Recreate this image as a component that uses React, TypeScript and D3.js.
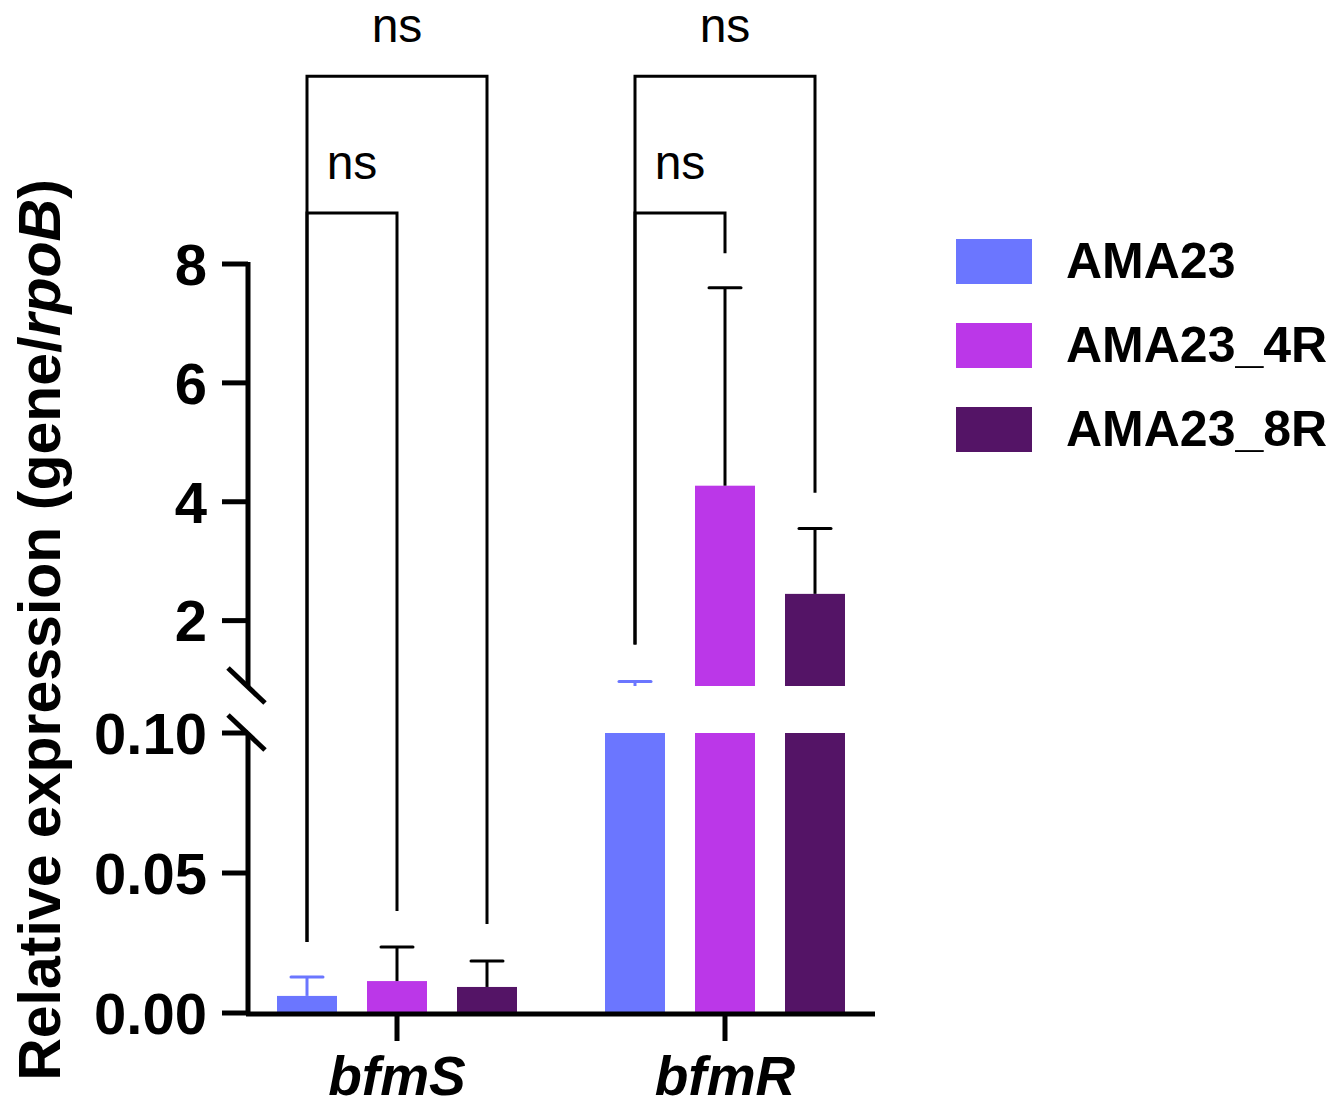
import * as d3 from "d3";

const categories = ["bfmS", "bfmR"];
const series = ["AMA23", "AMA23_4R", "AMA23_8R"];
const colors = ["#6b76ff", "#bb37e8", "#541466"];
// mean and error (SD) per series, per category
const means = [
  [0.0061, 0.75],
  [0.0114, 4.27],
  [0.0093, 2.45],
];
const errors = [
  [0.0068, 0.225],
  [0.0122, 3.33],
  [0.0093, 1.1],
];
const lowerTicks = [0, 0.05, 0.1];
const upperTicks = [2, 4, 6, 8];
// significance brackets: group, from/to series index, top value, leg ends
const brackets = [
  { cat: "bfmS", from: 0, to: 1, top: 8.86, left: 0.0254, right: 0.0364, label: "ns" },
  { cat: "bfmS", from: 0, to: 2, top: 11.16, left: 0.0254, right: 0.0318, label: "ns" },
  { cat: "bfmR", from: 0, to: 1, top: 8.86, left: 1.6, right: 8.18, label: "ns" },
  { cat: "bfmR", from: 0, to: 2, top: 11.16, left: 1.6, right: 4.15, label: "ns" },
];

const FONT = "'Liberation Sans', Arial, sans-serif";
const BREAK_LO = 0.1;
const BREAK_HI = 0.9;

export default function App() {
  const width = 1336;
  const height = 1108;
  const axisX = 248;

  const yLow = d3.scaleLinear().domain([0, BREAK_LO]).range([1013, 733]);
  const yHigh = d3.scaleLinear().domain([BREAK_HI, 8]).range([686, 264]);
  const yAny = (v: number) => (v <= BREAK_LO ? yLow(v) : yHigh(v));

  const x0 = d3.scalePoint<string>().domain(categories).range([397, 725]);
  const x1 = d3
    .scaleBand<string>()
    .domain(series)
    .range([-135, 135])
    .paddingInner(1 / 3)
    .paddingOuter(1 / 6);
  const bw = x1.bandwidth();
  const cx = (cat: string, si: number) => (x0(cat) as number) + (x1(series[si]) as number) + bw / 2;

  const bars: any[] = [];
  const errs: any[] = [];
  series.forEach((s, si) => {
    categories.forEach((c, ci) => {
      const v = means[si][ci];
      const e = errors[si][ci];
      const x = (x0(c) as number) + (x1(s) as number);
      // lower segment
      bars.push(
        <rect key={`l-${s}-${c}`} x={x} width={bw} y={yLow(Math.min(v, BREAK_LO))}
          height={yLow(0) - yLow(Math.min(v, BREAK_LO))} fill={colors[si]} />
      );
      if (v > BREAK_HI) {
        bars.push(
          <rect key={`u-${s}-${c}`} x={x} width={bw} y={yHigh(v)}
            height={yHigh(BREAK_HI) - yHigh(v)} fill={colors[si]} />
        );
      }
      const top = v + e;
      const ec = si === 0 ? colors[0] : "#000";
      let yb: number, yt: number;
      if (top <= BREAK_LO) {
        yb = yLow(v);
        yt = yLow(top);
      } else {
        yb = yHigh(Math.max(v, BREAK_HI));
        yt = yHigh(top);
      }
      const mx = x + bw / 2;
      errs.push(
        <g key={`e-${s}-${c}`} stroke={ec} strokeWidth={3}>
          <line x1={mx} x2={mx} y1={yb} y2={yt} />
          <line x1={mx - 16} x2={mx + 16} y1={yt} y2={yt} strokeLinecap="round" />
        </g>
      );
    });
  });

  return (
    <svg width={width} height={height} style={{ display: "block", position: "absolute", left: 0, top: 0 }}>
      <rect width={width} height={height} fill="#fff" />
      {bars}
      {errs}

      {/* y axis, lower segment */}
      <line x1={axisX} x2={axisX} y1={yLow(0) + 2} y2={yLow(BREAK_LO)} stroke="#000" strokeWidth={5} />
      {/* y axis, upper segment */}
      <line x1={axisX} x2={axisX} y1={yHigh(BREAK_HI)} y2={yHigh(8) - 2} stroke="#000" strokeWidth={5} />
      {/* break marks */}
      <line x1={axisX - 20} x2={axisX + 17} y1={yHigh(BREAK_HI) - 18} y2={yHigh(BREAK_HI) + 17} stroke="#000" strokeWidth={5} />
      <line x1={axisX - 20} x2={axisX + 17} y1={yLow(BREAK_LO) - 18} y2={yLow(BREAK_LO) + 17} stroke="#000" strokeWidth={5} />

      {lowerTicks.map((t) => (
        <g key={`lt-${t}`}>
          <line x1={axisX - 26} x2={axisX} y1={yLow(t)} y2={yLow(t)} stroke="#000" strokeWidth={5} />
          <text x={207} y={yLow(t)} dy="0.36em" textAnchor="end" fontFamily={FONT} fontWeight="bold" fontSize={58}>
            {d3.format(".2f")(t)}
          </text>
        </g>
      ))}
      {upperTicks.map((t) => (
        <g key={`ut-${t}`}>
          <line x1={axisX - 26} x2={axisX} y1={yHigh(t)} y2={yHigh(t)} stroke="#000" strokeWidth={5} />
          <text x={207} y={yHigh(t)} dy="0.36em" textAnchor="end" fontFamily={FONT} fontWeight="bold" fontSize={58}>
            {t}
          </text>
        </g>
      ))}

      {/* x axis */}
      <line x1={axisX - 2} x2={875} y1={yLow(0) + 1} y2={yLow(0) + 1} stroke="#000" strokeWidth={5} />
      {categories.map((c) => (
        <g key={`xt-${c}`}>
          <line x1={x0(c)} x2={x0(c)} y1={yLow(0)} y2={yLow(0) + 28} stroke="#000" strokeWidth={5} />
          <text x={x0(c)} y={1095} textAnchor="middle" fontFamily={FONT} fontWeight="bold"
            fontStyle="italic" fontSize={55}>
            {c}
          </text>
        </g>
      ))}

      {/* y title */}
      <text transform="translate(60,630) rotate(-90)" textAnchor="middle" fontFamily={FONT}
        fontWeight="bold" fontSize={59}>
        Relative expression (gene/<tspan fontStyle="italic">rpoB</tspan>)
      </text>

      {/* significance brackets */}
      {brackets.map((b, i) => {
        const xa = cx(b.cat, b.from);
        const xb = cx(b.cat, b.to);
        const yt = yHigh(b.top);
        return (
          <g key={`br-${i}`}>
            <path d={`M${xa},${yAny(b.left)}V${yt}H${xb}V${yAny(b.right)}`} fill="none" stroke="#000" strokeWidth={3} />
            <text x={(xa + xb) / 2} y={yt - 34} textAnchor="middle" fontFamily={FONT} fontSize={48}>
              {b.label}
            </text>
          </g>
        );
      })}

      {/* legend */}
      {series.map((s, i) => (
        <g key={`lg-${s}`} transform={`translate(956,${239 + i * 84})`}>
          <rect width={76} height={45} fill={colors[i]} />
          <text x={110} y={39} fontFamily={FONT} fontWeight="bold" fontSize={50}>
            {s}
          </text>
        </g>
      ))}
    </svg>
  );
}
